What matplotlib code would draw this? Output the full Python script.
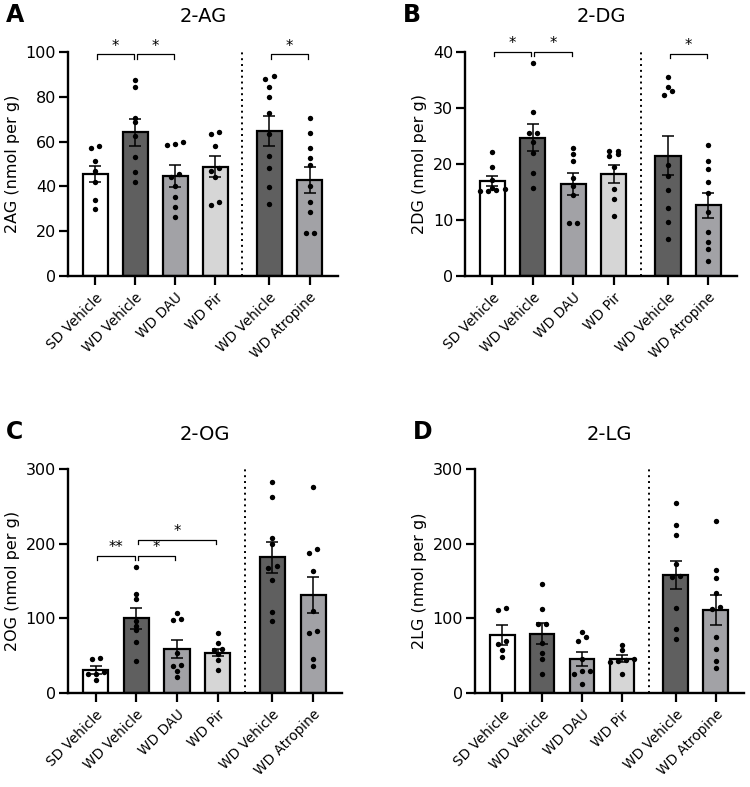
import numpy as np
import matplotlib
matplotlib.use("Agg")
import matplotlib.pyplot as plt

# grupos y colores de barra
groups = ["SD Vehicle", "WD Vehicle", "WD DAU", "WD Pir", "WD Vehicle", "WD Atropine"]
bar_colors = ["#ffffff", "#5f5f5f", "#a2a2a6", "#d6d6d6", "#5f5f5f", "#a2a2a6"]

# Panel A: 2-AG
ag_mean = [45.4, 64.2, 44.6, 48.8, 64.9, 42.9]
ag_sem = [3.6, 6.0, 4.8, 4.7, 6.7, 5.9]
ag_dots = [
    [57.1, 58.2, 51.5, 47.0, 42.1, 33.9, 30.1],
    [87.5, 84.2, 70.4, 68.6, 62.6, 53.3, 46.3, 42.0],
    [59.7, 58.5, 58.9, 45.5, 44.3, 40.2, 35.1, 30.7, 26.5],
    [63.2, 64.4, 58.2, 48.0, 44.0, 47.0, 31.7, 32.9],
    [87.8, 89.3, 84.2, 80.1, 72.6, 63.4, 53.7, 48.1, 39.9, 32.1],
    [70.4, 63.7, 57.0, 52.8, 49.6, 40.3, 32.9, 28.6, 19.0, 19.3],
]

# Panel B: 2-DG
dg_mean = [16.9, 24.7, 16.4, 18.2, 21.5, 12.6]
dg_sem = [0.9, 2.4, 2.0, 1.65, 3.5, 2.3]
dg_dots = [
    [22.1, 19.4, 17.2, 15.8, 15.3, 15.2, 15.1, 15.6],
    [38.0, 29.3, 25.6, 25.5, 24.0, 22.0, 18.4, 15.7],
    [22.8, 21.8, 20.5, 17.5, 16.0, 14.5, 9.5, 9.5],
    [22.4, 22.4, 21.8, 21.5, 19.5, 15.6, 13.8, 10.7],
    [35.5, 33.7, 33.1, 32.4, 19.8, 17.9, 15.4, 12.2, 9.6, 6.6],
    [23.4, 20.6, 19.1, 16.8, 14.8, 11.5, 7.8, 6.0, 4.8, 2.7],
]

# Panel C: 2-OG
og_mean = [30.5, 100.0, 59.1, 54.2, 181.8, 131.0]
og_sem = [5.0, 14.0, 12.5, 5.0, 21.0, 24.0]
og_dots = [
    [46.0, 47.0, 26.0, 28.0, 25.0, 17.0],
    [168.9, 132.0, 126.2, 96.0, 90.0, 84.4, 68.9, 43.1],
    [106.7, 97.8, 98.7, 53.8, 35.9, 37.7, 29.6, 21.5],
    [79.8, 67.3, 58.3, 57.4, 51.6, 44.0, 30.5],
    [283.0, 263.0, 208.0, 200.0, 170.0, 168.0, 152.0, 108.0, 97.0],
    [276.4, 192.9, 187.6, 164.0, 109.8, 80.9, 83.1, 46.2, 35.6],
]

# Panel D: 2-LG
lg_mean = [77.8, 79.6, 45.3, 46.2, 157.8, 111.1]
lg_sem = [13.0, 14.0, 9.0, 4.5, 19.0, 20.0]
lg_dots = [
    [111.0, 114.0, 66.0, 70.0, 58.0, 48.0],
    [146.0, 113.0, 93.0, 92.0, 67.0, 53.0, 46.0, 26.0],
    [82.0, 75.0, 70.0, 45.0, 30.0, 30.0, 25.0, 12.0],
    [64.0, 57.0, 44.0, 45.0, 43.0, 42.0, 25.0],
    [254.2, 225.3, 211.1, 173.3, 157.3, 155.6, 114.2, 86.2, 72.9],
    [229.8, 165.3, 153.8, 133.3, 112.0, 115.6, 75.6, 58.7, 43.1, 32.9],
]

# comparaciones significativas: (grupo1, grupo2, altura, texto)
ag_sig = [(0, 1, 99, "*"), (1, 2, 99, "*"), (4, 5, 99, "*")]
dg_sig = [(0, 1, 40, "*"), (1, 2, 40, "*"), (4, 5, 39.7, "*")]
og_sig = [(0, 1, 184, "**"), (1, 2, 184, "*"), (1, 3, 205, "*")]
lg_sig = []

xpos = np.array([0, 1, 2, 3, 4.35, 5.35])
plt.rcParams['font.family'] = ['DejaVu Sans']

W, H = 750, 787
fig = plt.figure(figsize=(W / 100, H / 100), dpi=100)


def jitter(vals, ymax):
    # separar puntos con valores cercanos (en pares)
    vals = np.asarray(vals, float)
    order = np.argsort(vals)
    offs = np.zeros(len(vals))
    thr = 0.018 * ymax
    clusters = [[order[0]]]
    for i in order[1:]:
        if vals[i] - vals[clusters[-1][0]] < thr and len(clusters[-1]) < 4:
            clusters[-1].append(i)
        else:
            clusters.append([i])
    for c in clusters:
        n = len(c)
        for k, idx in enumerate(c):
            offs[idx] = (k - (n - 1) / 2) * 0.2
    return offs


def panel(box, means, sems, dots, sig, ymax, step, ylabel, title, letter):
    l, r, t, b = box
    ax = fig.add_axes([l / W, 1 - b / H, (r - l) / W, (b - t) / H])
    ax.bar(xpos, means, width=0.62, color=bar_colors, edgecolor="black",
           linewidth=1.6, zorder=2)
    ax.errorbar(xpos, means, yerr=sems, fmt="none", ecolor="black",
                elinewidth=1.1, capsize=4, capthick=1.1, zorder=3)
    for x, d in zip(xpos, dots):
        ax.scatter(x + jitter(d, ymax), d, s=15, color="black", zorder=4,
                   linewidths=0)
    ax.axvline(3.675, ymin=0, ymax=1, color="black", linestyle=(0, (1, 2)),
               linewidth=1.4)
    for g1, g2, y, txt in sig:
        x1, x2 = xpos[g1] + 0.04, xpos[g2] - 0.04
        h = ymax * 0.02
        ax.plot([x1, x1, x2, x2], [y - h, y, y, y - h], color="black",
                linewidth=0.9, clip_on=False, zorder=5)
        ax.text((x1 + x2) / 2, y + ymax * 0.003, txt, ha="center", va="bottom",
                fontsize=10.5, clip_on=False)
    ax.set_xlim(-0.68, 6.06)
    ax.set_ylim(0, ymax)
    ax.set_yticks(np.arange(0, ymax + step / 2, step))
    ax.set_xticks(xpos)
    ax.set_xticklabels(groups, rotation=45, ha="right", rotation_mode="anchor",
                       fontsize=9.8)
    ax.tick_params(axis="both", width=1.6, length=6.5, labelsize=11.5,
                   color="black")
    ax.tick_params(axis="x", pad=4, labelsize=9.8)
    ax.tick_params(axis="y", pad=2)
    for s in ["top", "right"]:
        ax.spines[s].set_visible(False)
    for s in ["left", "bottom"]:
        ax.spines[s].set_linewidth(1.7)
    ax.set_ylabel(ylabel, fontsize=11.5, labelpad=4)
    cx = (l + r) / 2 / W
    fig.text(cx, 1 - (t - 35) / H, title, ha="center", va="center", fontsize=14)
    fig.text((l - 62) / W, 1 - (t - 37) / H, letter, ha="left", va="center",
             fontsize=17, fontweight="bold")
    return ax


panel((68, 338, 52, 276), ag_mean, ag_sem, ag_dots, ag_sig, 100, 20,
      "2AG (nmol per g)", "2-AG", "A")
panel((465, 737, 52, 276), dg_mean, dg_sem, dg_dots, dg_sig, 40, 10,
      "2DG (nmol per g)", "2-DG", "B")
panel((68, 342, 469, 693), og_mean, og_sem, og_dots, og_sig, 300, 100,
      "2OG (nmol per g)", "2-OG", "C")
panel((475, 744, 469, 693), lg_mean, lg_sem, lg_dots, lg_sig, 300, 100,
      "2LG (nmol per g)", "2-LG", "D")

fig.savefig("out.png", dpi=100)
